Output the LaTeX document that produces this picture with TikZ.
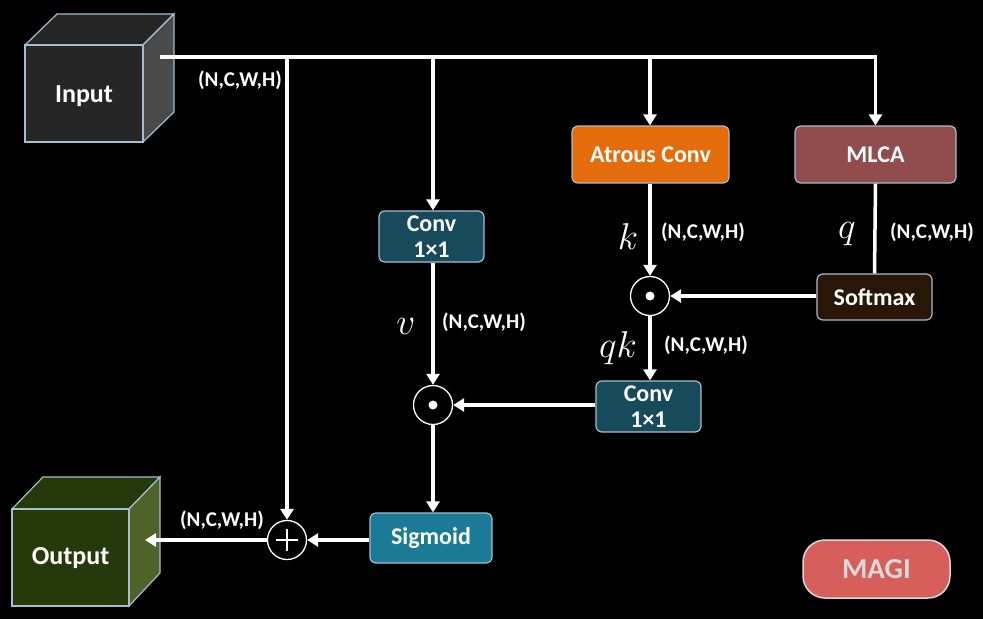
\documentclass[tikz,border=0pt]{standalone}
\usepackage{fontspec}
\setmainfont{Carlito}
\usetikzlibrary{arrows.meta}
\definecolor{edgec}{HTML}{A6BDD3}
\definecolor{convc}{HTML}{174A5A}
\definecolor{atrc}{HTML}{E46C0A}
\definecolor{mlcac}{HTML}{914C4E}
\definecolor{softc}{HTML}{281606}
\definecolor{sigc}{HTML}{1B7A95}
\definecolor{magic}{HTML}{D65F5B}
\definecolor{magit}{HTML}{D9D9D9}
\definecolor{inf}{HTML}{262626}
\definecolor{inr}{HTML}{4A4A4A}
\definecolor{outf}{HTML}{253A0A}
\definecolor{outr}{HTML}{4F6228}
\tikzset{
  opbox/.style={draw=edgec, line width=1.2pt, rounded corners=6pt, text=white,
    font=\bfseries\fontsize{24}{26}\selectfont, align=center, inner sep=0pt},
  conn/.style={draw=white, line width=3.5pt},
  arr/.style={conn, -{Triangle[width=13pt,length=11pt]}},
  opcirc/.style={circle, draw=white, line width=1.3pt, fill=black, minimum size=39pt, inner sep=0pt},
  dimlab/.style={text=white, font=\bfseries\fontsize{21}{23}\selectfont},
  varlab/.style={text=white, font=\huge, scale=1.8, transform shape},
  cubelab/.style={text=white, font=\bfseries\fontsize{26}{28}\selectfont}
}
\begin{document}
\begin{tikzpicture}[x=1pt,y=-1pt]
\fill[black] (0,0) rectangle (983,619);
\useasboundingbox (0,0) rectangle (983,619);
% input cube
\filldraw[fill=inf, draw=edgec, line width=1.2pt] (25,45) -- (57,14) -- (174,14) -- (143,45) -- cycle;
\filldraw[fill=inr, draw=edgec, line width=1.2pt] (143,45) -- (174,14) -- (174,112) -- (143,142) -- cycle;
\node[draw=edgec, fill=inf, line width=1.2pt, minimum width=118pt, minimum height=97pt, inner sep=0pt] (inp) at (84,93.5) {};
\node[cubelab] (inptxt) at (84,96) {Input};
% output cube
\filldraw[fill=outf, draw=edgec, line width=1.2pt] (12,509) -- (43,477) -- (160,477) -- (129,509) -- cycle;
\filldraw[fill=outr, draw=edgec, line width=1.2pt] (129,509) -- (160,477) -- (160,573) -- (129,606) -- cycle;
\node[draw=edgec, fill=outf, line width=1.2pt, minimum width=117pt, minimum height=97pt, inner sep=0pt] (outp) at (70.5,557.5) {};
\node[cubelab] (outtxt) at (70.5,558) {Output};
% boxes
\node[opbox, fill=convc, minimum width=105pt, minimum height=51pt] (conv1) at (431.5,236.5) {Conv\\1×1};
\node[opbox, fill=atrc, minimum width=157pt, minimum height=57pt] (atr) at (650.5,154.5) {Atrous Conv};
\node[opbox, fill=mlcac, minimum width=161pt, minimum height=57pt] (mlca) at (875.5,154.5) {MLCA};
\node[opbox, fill=softc, minimum width=115pt, minimum height=46pt] (soft) at (874.5,297) {Softmax};
\node[opbox, fill=convc, minimum width=105pt, minimum height=51pt] (conv2) at (648.5,406.5) {Conv\\1×1};
\node[opbox, fill=sigc, minimum width=122pt, minimum height=50pt] (sig) at (431,538) {Sigmoid};
\node[draw=magit, line width=1.5pt, fill=magic, rounded corners=22pt, minimum width=147pt, minimum height=58pt,
  text=magit, font=\bfseries\fontsize{29}{30}\selectfont] (magi) at (876.5,569) {MAGI};
% operators
\node[opcirc] (dot1) at (650,296) {};
\fill[white] (dot1.center) circle (4.5pt);
\node[opcirc] (dot2) at (433,405) {};
\fill[white] (dot2.center) circle (4.5pt);
\node[opcirc] (plus) at (287,540) {};
\draw[white, line width=2.5pt] ([xshift=-11pt]plus.center) -- ([xshift=11pt]plus.center);
\draw[white, line width=2.5pt] ([yshift=-11pt]plus.center) -- ([yshift=11pt]plus.center);
% connectors
\coordinate (inS) at (160,57);
\coordinate (jP) at (287,57);
\coordinate (jC) at (433,57);
\coordinate (jA) at (650,57);
\draw[arr] (inS) -| (mlca.north);
\draw[arr] (jA) -- (atr.north -| jA);
\draw[arr] (jC) -- (conv1.north -| jC);
\draw[arr] (jP) -- (plus.north);
\draw[arr] (atr.south -| dot1) -- (dot1.north);
\draw[conn] (mlca.south) -- (soft.north);
\draw[arr] (soft.west |- dot1) -- (dot1.east);
\draw[arr] (dot1.south) -- (conv2.north -| dot1);
\draw[arr] (conv2.west |- dot2) -- (dot2.east);
\draw[arr] (conv1.south -| dot2) -- (dot2.north);
\draw[arr] (dot2.south) -- (sig.north -| dot2);
\draw[arr] (sig.west |- plus) -- (plus.east);
\coordinate (outE) at (145,540);
\draw[arr] (plus.west) -- (outE);
% labels
\node[dimlab] (d0) at (240,80) {(N,C,W,H)};
\node[dimlab] (d1) at (703,232) {(N,C,W,H)};
\node[dimlab] (d2) at (932,232) {(N,C,W,H)};
\node[dimlab] (d3) at (484,322) {(N,C,W,H)};
\node[dimlab] (d4) at (706,345) {(N,C,W,H)};
\node[dimlab] (d5) at (222,520) {(N,C,W,H)};
\node[varlab] (lk) at (628,237) {$k$};
\node[varlab] (lq) at (847,234) {$q$};
\node[varlab] (lv) at (406,326) {$v$};
\node[varlab] (lqk) at (618,348) {$qk$};
\end{tikzpicture}
\end{document}
